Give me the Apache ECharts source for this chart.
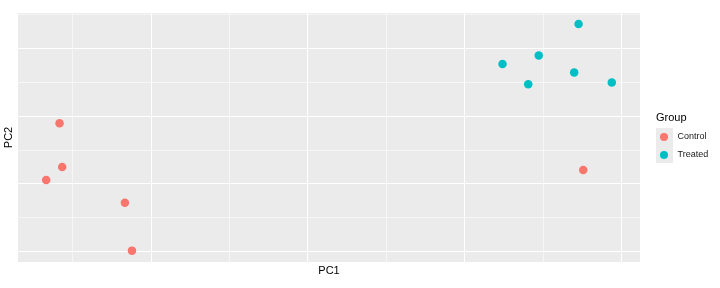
<!DOCTYPE html>
<html>
<head>
<meta charset="utf-8">
<script src="https://cdn.jsdelivr.net/npm/echarts@6/dist/echarts.min.js"></script>
<style>html,body{margin:0;padding:0;background:#fff;}#chart{width:720px;height:288px;}</style>
</head>
<body>
<div id="chart"></div>
<script>
// Data (PC1, PC2) per group
var groups = ['Control', 'Treated'];
var controlPC1 = [-15.83, -15.66, -16.68, -11.66, -11.21, 17.58];
var controlPC2 = [-0.54, -3.77, -4.73, -6.41, -9.95, -3.99];
var treatedPC1 = [17.28, 14.74, 12.43, 17.00, 14.07, 19.40];
var treatedPC2 = [6.78, 4.46, 3.84, 3.20, 2.34, 2.46];
// Gridline (break) positions
var xMajor = [-10, 0, 10, 20];
var xMinor = [-15, -5, 5, 15];
var yMajor = [-10, -5, 0, 5];
var yMinor = [-7.5, -2.5, 2.5, 7.5];
var colors = ['#F8766D', '#00BFC4'];

function pairs(xs, ys) { return xs.map(function (x, i) { return [x, ys[i]]; }); }

var FONT = 'Liberation Sans, Arial, sans-serif';
var xMin = -18.48, xMax = 21.2, yMin = -10.79, yMax = 7.6;

function gridLines(values, key, width) {
  return values.map(function (v) {
    var o = { lineStyle: { color: '#FFFFFF', width: width, type: 'solid' } };
    o[key] = v;
    return o;
  });
}

var chart = echarts.init(document.getElementById('chart'), null, { renderer: 'canvas' });
chart.setOption({
  animation: false,
  backgroundColor: '#FFFFFF',
  textStyle: { fontFamily: FONT },
  title: { text: 'Group', left: 656, top: 112.5, padding: 0,
    textStyle: { fontSize: 11, fontWeight: 'normal', color: '#000', fontFamily: FONT } },
  graphic: [{ type: 'rect', left: 656, top: 128, shape: { width: 17, height: 35 }, style: { fill: '#EBEBEB' }, z: 0 }],
  legend: {
    data: groups, orient: 'vertical', left: 660, top: 132.5, padding: 0,
    itemWidth: 17, itemHeight: 8, itemGap: 9, icon: 'circle',
    textStyle: { fontSize: 9, color: '#1A1A1A', fontFamily: FONT }, z: 5
  },
  grid: { left: 18, right: 80, top: 13, bottom: 26, show: true, backgroundColor: '#EBEBEB', borderWidth: 0,
    containLabel: false, outerBoundsMode: 'none' },
  xAxis: {
    type: 'value', min: xMin, max: xMax, axisLine: { show: false }, axisTick: { show: false },
    axisLabel: { show: false }, splitLine: { show: false },
    name: 'PC1', nameLocation: 'middle', nameGap: 3,
    nameTextStyle: { fontSize: 11, color: '#000', fontFamily: FONT, verticalAlign: 'top' }
  },
  yAxis: {
    type: 'value', min: yMin, max: yMax, axisLine: { show: false }, axisTick: { show: false },
    axisLabel: { show: false }, splitLine: { show: false },
    name: 'PC2', nameLocation: 'middle', nameGap: 4,
    nameTextStyle: { fontSize: 11, color: '#000', fontFamily: FONT }
  },
  series: [
    { name: 'grid', type: 'scatter', data: [], z: 1, silent: true,
      markLine: { silent: true, z: 1, zlevel: 0, symbol: 'none', label: { show: false }, animation: false,
        data: [].concat(
          gridLines(xMinor, 'xAxis', 0.55), gridLines(yMinor, 'yAxis', 0.55),
          gridLines(xMajor, 'xAxis', 1.1), gridLines(yMajor, 'yAxis', 1.1)) } },
    { name: 'Control', type: 'scatter', z: 10, symbolSize: 8.5,
      itemStyle: { color: colors[0], opacity: 1 }, data: pairs(controlPC1, controlPC2) },
    { name: 'Treated', type: 'scatter', z: 10, symbolSize: 8.5,
      itemStyle: { color: colors[1], opacity: 1 }, data: pairs(treatedPC1, treatedPC2) }
  ]
});
</script>
</body>
</html>
